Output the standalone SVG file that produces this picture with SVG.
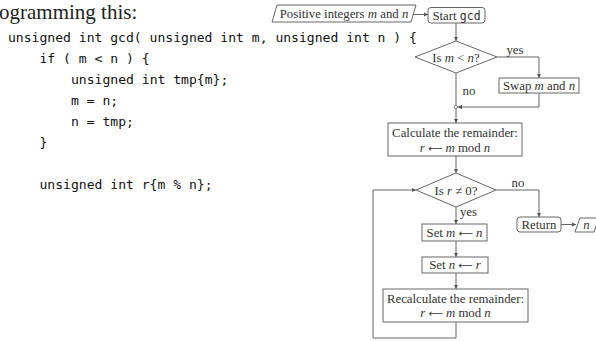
<svg xmlns="http://www.w3.org/2000/svg" width="596" height="341" viewBox="0 0 596 341">
<defs>
<marker id="ah" viewBox="0 0 6 6" refX="6" refY="3" markerWidth="4.5" markerHeight="4.5" markerUnits="userSpaceOnUse" orient="auto">
<path d="M0,0 L6,3 L0,6 z" fill="#555"/>
</marker>
</defs>
<style>
.title{font-family:"Liberation Serif",serif;font-size:21px;fill:#222}
.code{font-family:"DejaVu Sans Mono","Liberation Mono",monospace;font-size:13.07px;fill:#111}
.box{fill:#fff;stroke:#666;stroke-width:1}
.t{font-family:"Liberation Serif",serif;font-size:12.8px;fill:#333;text-anchor:middle}
.lbl{font-family:"Liberation Serif",serif;font-size:12.8px;fill:#333;text-anchor:middle}
.i{font-style:italic}
.ar{font-family:"DejaVu Sans",sans-serif;font-size:10px}
.mono{font-family:"DejaVu Sans Mono","Liberation Mono",monospace;font-size:11.5px}
.ln{fill:none;stroke:#666;stroke-width:1}
.arr{marker-end:url(#ah)}
</style>
<rect width="596" height="341" fill="#fff"/>
<text class="title" x="-1" y="19">ogramming this:</text>
<g id="code">
<text class="code" x="8" y="41.5">unsigned int gcd( unsigned int m, unsigned int n ) {</text>
<text class="code" x="39.5" y="62.5">if ( m &lt; n ) {</text>
<text class="code" x="71" y="83.5">unsigned int tmp{m};</text>
<text class="code" x="71" y="104.5">m = n;</text>
<text class="code" x="71" y="125.5">n = tmp;</text>
<text class="code" x="39.5" y="146.5">}</text>
<text class="code" x="39.5" y="188.5">unsigned int r{m % n};</text>
</g>
<g id="connectors">
<line class="ln arr" x1="413" y1="14.5" x2="428" y2="14.5"/>
<line class="ln arr" x1="456" y1="23" x2="456" y2="41"/>
<polyline class="ln arr" points="497,57 539,57 539,78"/>
<polyline class="ln arr" points="539,93 539,107 457.5,107"/>
<line class="ln arr" x1="456" y1="73" x2="456" y2="123"/>
<circle cx="455.8" cy="107" r="1.6" fill="#fff" stroke="#666" stroke-width="0.8"/>
<line class="ln arr" x1="456" y1="156" x2="456" y2="173"/>
<polyline class="ln arr" points="496,190 539,190 539,217"/>
<line class="ln arr" x1="561" y1="224.5" x2="576" y2="224.5"/>
<line class="ln arr" x1="456" y1="207" x2="456" y2="224"/>
<line class="ln arr" x1="456" y1="241" x2="456" y2="257"/>
<line class="ln arr" x1="456" y1="273" x2="456" y2="289"/>
<polyline class="ln arr" points="456,322 456,338 373,338 373,190 416,190"/>
<text class="lbl" x="515" y="53.5">yes</text>
<text class="lbl" x="469" y="94.5">no</text>
<text class="lbl" x="518" y="187">no</text>
<text class="lbl" x="468.5" y="215.5">yes</text>
</g>
<g id="input">
<polygon class="box" points="277,5 416,5 411,22 272,22"/>
<text class="t" x="344" y="17.5">Positive integers <tspan class="i">m</tspan> and <tspan class="i">n</tspan></text>
</g>
<g id="start">
<rect class="box" x="428" y="7.5" width="57" height="15.5" rx="3"/>
<text class="t" x="456.5" y="19.5">Start <tspan class="mono">gcd</tspan></text>
</g>
<g id="cond1">
<polygon class="box" points="456,41 497,57 456,73 415,57"/>
<text class="t" x="456" y="61.5">Is <tspan class="i">m</tspan> &lt; <tspan class="i">n</tspan>?</text>
</g>
<g id="swap">
<rect class="box" x="499" y="78" width="80" height="15"/>
<text class="t" x="539" y="89.5">Swap <tspan class="i">m</tspan> and <tspan class="i">n</tspan></text>
</g>
<g id="calc">
<rect class="box" x="388" y="123" width="134" height="33"/>
<text class="t" x="455" y="137">Calculate the remainder:</text>
<text class="t" x="455" y="151.5"><tspan class="i">r</tspan> <tspan class="ar">⟵</tspan> <tspan class="i">m</tspan> mod <tspan class="i">n</tspan></text>
</g>
<g id="cond2">
<polygon class="box" points="456,173 496,190 456,207 416,190"/>
<text class="t" x="456" y="194.5">Is <tspan class="i">r</tspan> ≠ 0?</text>
</g>
<g id="return">
<rect class="box" x="517" y="217" width="44" height="15" rx="3"/>
<text class="t" x="539" y="228.5">Return</text>
</g>
<g id="output">
<polygon class="box" points="580,218 599,218 594,232 575,232"/>
<text class="t i" x="586.5" y="228.5">n</text>
</g>
<g id="setm">
<rect class="box" x="422" y="224" width="65" height="17"/>
<text class="t" x="454.5" y="236.5">Set <tspan class="i">m</tspan> <tspan class="ar">⟵</tspan> <tspan class="i">n</tspan></text>
</g>
<g id="setn">
<rect class="box" x="422" y="257" width="66" height="16"/>
<text class="t" x="455" y="269">Set <tspan class="i">n</tspan> <tspan class="ar">⟵</tspan> <tspan class="i">r</tspan></text>
</g>
<g id="recalc">
<rect class="box" x="383" y="289" width="145" height="33"/>
<text class="t" x="455.5" y="302.5">Recalculate the remainder:</text>
<text class="t" x="455.5" y="317"><tspan class="i">r</tspan> <tspan class="ar">⟵</tspan> <tspan class="i">m</tspan> mod <tspan class="i">n</tspan></text>
</g>
</svg>
